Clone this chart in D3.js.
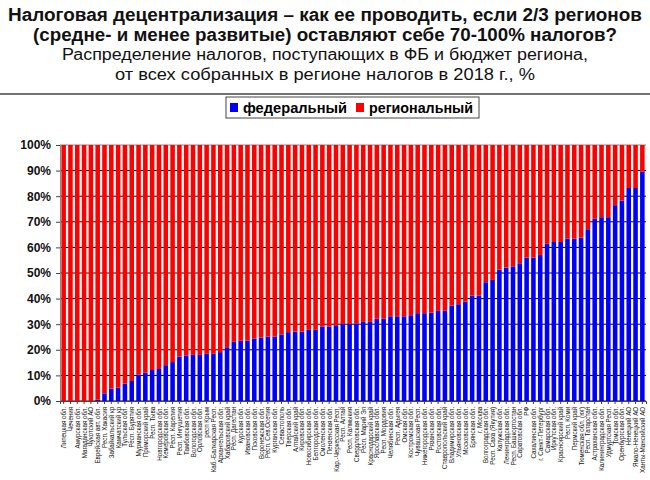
<!DOCTYPE html>
<html>
<head>
<meta charset="utf-8">
<script src="https://d3js.org/d3.v7.min.js"></script>
<style>
  body { margin: 0; background: #fff; }
  text { font-family: "Liberation Sans", Arial, sans-serif; }
</style>
</head>
<body>
<div id="chart"></div>
<script>
// regions, sorted by federal share
var regions = ["Липецкая обл.", "Чечения", "Амурская обл.", "Магаданская обл.", "Чукотский АО",
  "Еврейская авт. обл.", "Респ. Хакасия", "Забайкальский кр", "Камчатский кр", "Тульская обл.",
  "Респ. Бурятия", "Мурманская обл.", "Приморский край", "Респ. Тыва", "Новгородская обл.",
  "Кемеровская обл.", "Респ. Карелия", "Респ. Ингушетия", "Тамбовская обл.", "Вологодская обл.",
  "Орловская обл.", "респ Крым", "Каб.-Балкарская Респ.", "Архангельская обл.", "Хабаровский край",
  "Респ. Дагестан", "Курская обл.", "Ивановская обл.", "Псковская обл.", "Воронежская обл.",
  "Респ. Сев.Осетия", "Курганская обл.", "Севастополь", "Тверская обл.", "Алтайский край",
  "Кировская обл.", "Новосибирская обл.", "Белгородская обл.", "Смоленская обл.", "Пензенская обл.",
  "Кар.-Черкесская Респ.", "Респ. Алтай", "Респ. Калмыкия", "Свердловская обл.", "Респ. Марий Эл",
  "Краснодарский край", "Ярославская обл.", "Респ. Мордовия", "Челябинская обл.", "Респ. Адыгея",
  "Омская обл.", "Костромская обл.", "Чувашская Респ.", "Нижегородская обл.", "Рязанская обл.",
  "Ростовская обл.", "Ставропольский край", "Владимирская обл.", "Ульяновская обл.", "Московская обл.",
  "Брянская обл.", "г. Москва", "Волгоградская обл.", "Респ. Саха (Якутия)", "Калужская обл.",
  "Ленинградская обл.", "Респ. Башкортостан", "Саратовская обл.", "РФ", "Сахалинская обл.",
  "г. Санкт-Петербург", "Самарская обл.", "Иркутская обл.", "Красноярский край", "Респ. Коми",
  "Пермский край", "Тюменская обл. (юг)", "Респ. Татарстан", "Астраханская обл.", "Калининградская обл.",
  "Удмуртская Респ.", "Томская обл.", "Оренбургская обл.", "Ненецкий АО", "Ямало-Ненецкий АО",
  "Ханты-Мансийский АО"];

// federal budget share, %
var federal = [0, 0, 0, 0, 0, 0.5, 3.0, 4.8, 5.2, 6.8,
  7.8, 10.3, 11.0, 12.1, 12.5, 14.0, 15.2, 17.4, 17.8, 18.0,
  18.0, 18.4, 18.4, 19.1, 21.0, 23.1, 23.5, 23.6, 24.4, 24.8,
  25.1, 25.1, 26.0, 26.9, 27.1, 27.1, 27.8, 27.8, 29.1, 29.1,
  29.6, 30.1, 30.1, 30.3, 30.9, 30.9, 32.1, 32.1, 33.1, 33.1,
  33.1, 33.5, 34.3, 34.3, 34.5, 35.2, 35.2, 37.3, 37.8, 38.8,
  41.2, 41.2, 46.4, 47.3, 51.3, 52.1, 52.6, 53.8, 56.0, 56.0,
  57.0, 61.4, 62.1, 62.1, 63.4, 63.4, 63.8, 67.1, 71.2, 71.8,
  71.8, 76.5, 78.3, 83.2, 83.2, 89.6];

var seriesNames = ["федеральный", "региональный"];
var yTicks = [0, 10, 20, 30, 40, 50, 60, 70, 80, 90, 100];

var colors = { "федеральный": "#0000ff", "региональный": "#ff0000" };

var svgWidth = 650;
var svgHeight = 480;
var margin = { top: 145, right: 4, bottom: 79, left: 60 };
var width = svgWidth - margin.left - margin.right;
var height = svgHeight - margin.top - margin.bottom;

var svg = d3.select("#chart")
  .append("svg")
  .attr("width", svgWidth)
  .attr("height", svgHeight);

// titles
var titles = [
  { t: "Налоговая децентрализация – как ее проводить, если 2/3 регионов", y: 21, w: 634, bold: true, size: 18 },
  { t: "(средне- и менее развитые) оставляют себе 70-100% налогов?", y: 41, w: 584, bold: true, size: 18 },
  { t: "Распределение налогов, поступающих в ФБ и бюджет региона,", y: 60, w: 526, bold: false, size: 16 },
  { t: "от всех собранных в регионе налогов в 2018 г., %", y: 80, w: 420, bold: false, size: 16 }
];
svg.selectAll(".title").data(titles).enter().append("text")
  .attr("class", "title")
  .attr("x", svgWidth / 2)
  .attr("y", d => d.y)
  .attr("text-anchor", "middle")
  .attr("font-size", d => d.size + "px")
  .attr("font-weight", d => d.bold ? "bold" : "normal")
  .attr("textLength", d => d.w)
  .attr("lengthAdjust", "spacingAndGlyphs")
  .attr("fill", "#111")
  .text(d => d.t);

svg.append("line")
  .attr("x1", 0).attr("x2", svgWidth)
  .attr("y1", 94).attr("y2", 94)
  .attr("stroke", "#444")
  .attr("stroke-width", 1.5);

// legend
var legend = svg.append("g").attr("transform", "translate(226, 97)");
legend.append("rect")
  .attr("width", 253).attr("height", 21)
  .attr("fill", "#fff")
  .attr("stroke", "#444");
var legendItems = legend.selectAll(".li").data(seriesNames).enter().append("g")
  .attr("transform", (d, i) => `translate(${4 + i * 126}, 0)`);
legendItems.append("rect")
  .attr("y", 6).attr("width", 8).attr("height", 9)
  .attr("fill", d => colors[d]);
legendItems.append("text")
  .attr("x", 13).attr("y", 15.5)
  .attr("font-size", "14px")
  .attr("font-weight", "bold")
  .attr("textLength", (d, i) => i ? 104 : 104)
  .attr("lengthAdjust", "spacingAndGlyphs")
  .text(d => d);

var chartGroup = svg.append("g")
  .attr("transform", `translate(${margin.left}, ${margin.top})`);

// scales
var xScale = d3.scaleBand()
  .domain(regions)
  .range([0, width])
  .paddingInner(0.33)
  .paddingOuter(0.2);

var yScale = d3.scaleLinear()
  .domain([0, 100])
  .range([height, 0]);

// grid
chartGroup.selectAll(".grid").data(yTicks).enter().append("line")
  .attr("x1", 0).attr("x2", width)
  .attr("y1", d => yScale(d)).attr("y2", d => yScale(d))
  .attr("stroke", d => d === 100 ? "#888" : "#000")
  .attr("stroke-width", 1);

// stacked bars
var data = regions.map((r, i) => ({ region: r, "федеральный": federal[i], "региональный": 100 - federal[i] }));
var stacked = d3.stack().keys(seriesNames)(data);

chartGroup.selectAll(".series").data(stacked).enter().append("g")
  .attr("fill", d => colors[d.key])
  .selectAll("rect")
  .data(d => d)
  .enter()
  .append("rect")
  .attr("x", d => xScale(d.data.region))
  .attr("y", d => yScale(d[1]))
  .attr("width", xScale.bandwidth())
  .attr("height", d => yScale(d[0]) - yScale(d[1]));

// y axis
var leftAxis = d3.axisLeft(yScale)
  .tickValues(yTicks)
  .tickFormat(d => d + "%")
  .tickSize(4)
  .tickPadding(5);
var yAxisG = chartGroup.append("g").call(leftAxis);
yAxisG.select(".domain").attr("stroke", "#888");
yAxisG.selectAll(".tick line").attr("stroke", "#444");
yAxisG.selectAll("text")
  .attr("font-size", "12px")
  .attr("font-weight", "bold")
  .attr("fill", "#111");

// x axis, labels squeezed like a narrow font
var bottomAxis = d3.axisBottom(xScale).tickSize(3).tickPadding(3);
var xAxisG = chartGroup.append("g")
  .attr("transform", `translate(0, ${height})`)
  .call(bottomAxis);
xAxisG.select(".domain").attr("stroke", "#444");
xAxisG.selectAll(".tick line").attr("stroke", "#444");
xAxisG.selectAll("text")
  .attr("font-size", "8px")
  .attr("fill", "#111")
  .attr("text-anchor", "end")
  .attr("transform", "rotate(-90) scale(0.78, 1)")
  .attr("x", -7.5)
  .attr("y", 0)
  .attr("dy", "0.32em");
</script>
</body>
</html>
